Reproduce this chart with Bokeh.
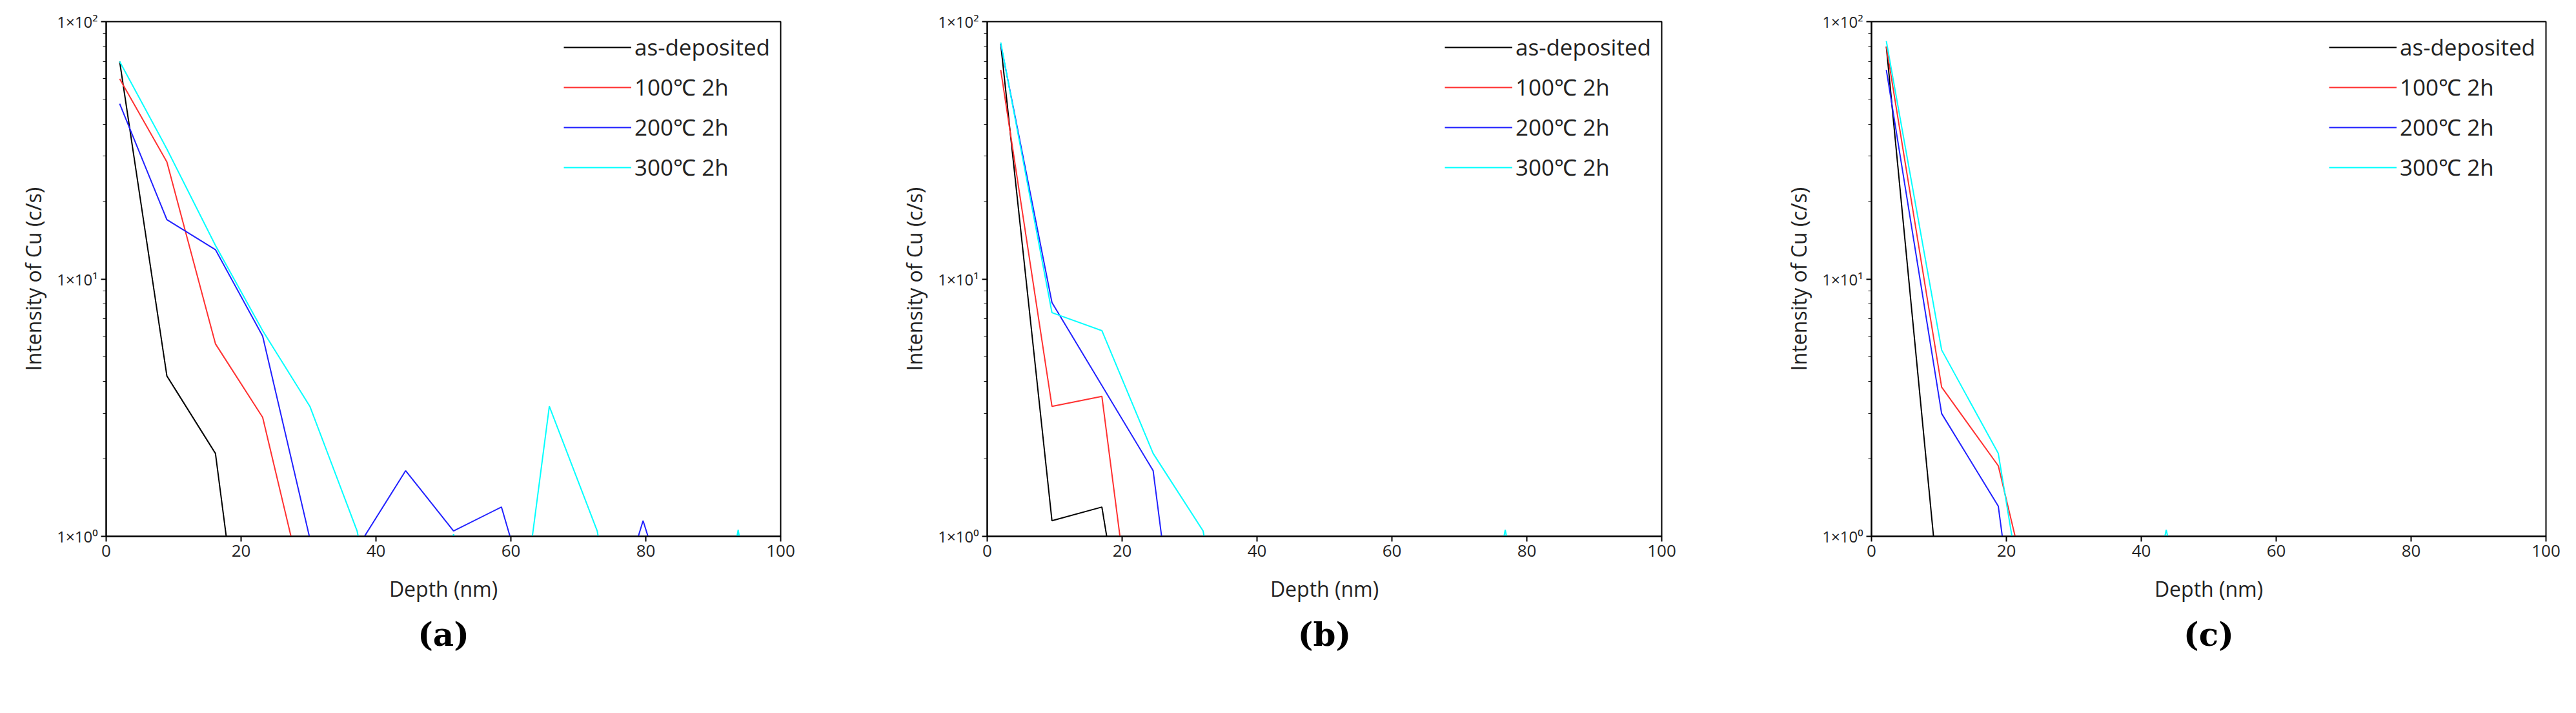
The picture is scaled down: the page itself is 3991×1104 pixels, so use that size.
from bokeh.plotting import figure
from bokeh.layouts import row
from bokeh.models import Range1d, FixedTicker, Title
from bokeh.embed import file_html
from bokeh.resources import INLINE

series_names = ["as-deposited", "100℃ 2h", "200℃ 2h", "300℃ 2h"]
colors = ["#000000", "#ff3030", "#2020ff", "#00ffff"]

# panel (a)
a_black_x = [2, 9, 16.2, 17.8]
a_black_y = [70, 4.2, 2.1, 1.0]
a_red_x = [2, 9, 16.2, 23.2, 27.4]
a_red_y = [60, 28.5, 5.6, 2.9, 1.0]
a_blue_x = [2, 9, 16.2, 23.2, 30.2, 37.2, 44.4, 51.5, 58.6, 65.7, 72.8, 79.6, 86.6]
a_blue_y = [48, 17, 13, 6, 0.98, 0.9, 1.8, 1.05, 1.3, 0.3, 0.3, 1.15, 0.3]
a_cyan_x = [2, 9, 16.2, 23.2, 30.2, 37.2, 44.4, 51.5, 58.6, 65.7, 72.8, 79.6, 86.6, 93.7, 100]
a_cyan_y = [70, 32, 13.5, 6.3, 3.2, 1.05, 0.12, 1.02, 0.12, 3.2, 1.05, 0.1, 0.1, 1.06, 0.1]

# panel (b)
b_black_x = [2, 9.6, 17, 24.6]
b_black_y = [82, 1.15, 1.3, 0.08]
b_red_x = [2, 9.6, 17, 24.6]
b_red_y = [65, 3.2, 3.5, 0.1]
b_blue_x = [2, 9.6, 24.6, 32]
b_blue_y = [82, 8.1, 1.8, 0.056]
b_cyan_x = [2, 9.6, 17, 24.6, 32, 39.5, 47, 54.4, 61.9, 69.4, 76.8, 84.3]
b_cyan_y = [83, 7.4, 6.3, 2.1, 1.05, 0.1, 0.1, 0.1, 0.1, 0.1, 1.06, 0.1]

# panel (c)
c_black_x = [2.2, 10.4]
c_black_y = [80, 0.47]
c_red_x = [2.2, 10.4, 18.8, 27.1]
c_red_y = [80, 3.8, 1.88, 0.23]
c_blue_x = [2.2, 10.4, 18.8, 27.1]
c_blue_y = [65, 3.0, 1.31, 0.03]
c_cyan_x = [2.2, 10.4, 18.8, 27.1, 35.4, 43.7, 52.0]
c_cyan_y = [84, 5.3, 2.1, 0.1, 0.1, 1.06, 0.1]

x_ticks = [0, 20, 40, 60, 80, 100]
y_tick_labels = {1: "1×10⁰", 10: "1×10¹", 100: "1×10²"}

FONT = "Open Sans"

def make_panel(xs, ys, caption, left, right):
    p = figure(width=1325, height=1090, y_axis_type="log",
               x_range=Range1d(0, 100), y_range=Range1d(1, 100),
               output_backend="svg", toolbar_location=None,
               min_border_left=left, min_border_right=right,
               min_border_top=33, min_border_bottom=260)
    p.outline_line_color = "black"
    p.outline_line_width = 2
    p.grid.visible = False
    for x, y, c, n in zip(xs, ys, colors, series_names):
        p.line(x, y, color=c, line_width=2, legend_label=n)
    p.xaxis.ticker = FixedTicker(ticks=x_ticks)
    p.yaxis.ticker.desired_num_ticks = 3
    p.yaxis.major_label_overrides = y_tick_labels
    for ax in (p.xaxis[0], p.yaxis[0]):
        ax.axis_line_width = 2
        ax.major_tick_line_width = 2
        ax.major_tick_out = 8
        ax.major_tick_in = 0
        ax.minor_tick_out = 5
        ax.minor_tick_in = 0
        ax.major_label_text_font = FONT
        ax.major_label_text_font_size = "26px"
        ax.major_label_text_color = "#222222"
        ax.axis_label_text_font = FONT
        ax.axis_label_text_font_size = "32px"
        ax.axis_label_text_font_style = "normal"
        ax.axis_label_text_color = "#222222"
    p.yaxis.major_label_text_font_size = "24px"
    p.xaxis.minor_tick_line_color = None
    p.xaxis.axis_label = "Depth (nm)"
    p.yaxis.axis_label = "Intensity of Cu (c/s)"
    p.xaxis.axis_label_standoff = 25
    p.yaxis.axis_label_standoff = 12
    leg = p.legend[0]
    leg.location = "top_right"
    leg.border_line_color = None
    leg.background_fill_alpha = 0
    leg.label_text_font = FONT
    leg.label_text_font_size = "35px"
    leg.label_text_color = "#222222"
    leg.glyph_width = 105
    leg.glyph_height = 44
    leg.label_height = 44
    leg.spacing = 15
    leg.margin = 16
    leg.padding = 0
    p.add_layout(Title(text=caption, align="center", text_font="DejaVu Serif",
                       text_font_size="50px", text_font_style="bold",
                       text_color="black", standoff=30), "below")
    return p

pa = make_panel([a_black_x, a_red_x, a_blue_x, a_cyan_x],
                [a_black_y, a_red_y, a_blue_y, a_cyan_y], "(a)", 164, 116)
pb = make_panel([b_black_x, b_red_x, b_blue_x, b_cyan_x],
                [b_black_y, b_red_y, b_blue_y, b_cyan_y], "(b)", 204, 76)
pc = make_panel([c_black_x, c_red_x, c_blue_x, c_cyan_x],
                [c_black_y, c_red_y, c_blue_y, c_cyan_y], "(c)", 249, 31)

layout = row(pa, pb, pc, spacing=0)
open("out.html", "w").write(file_html(layout, INLINE))
